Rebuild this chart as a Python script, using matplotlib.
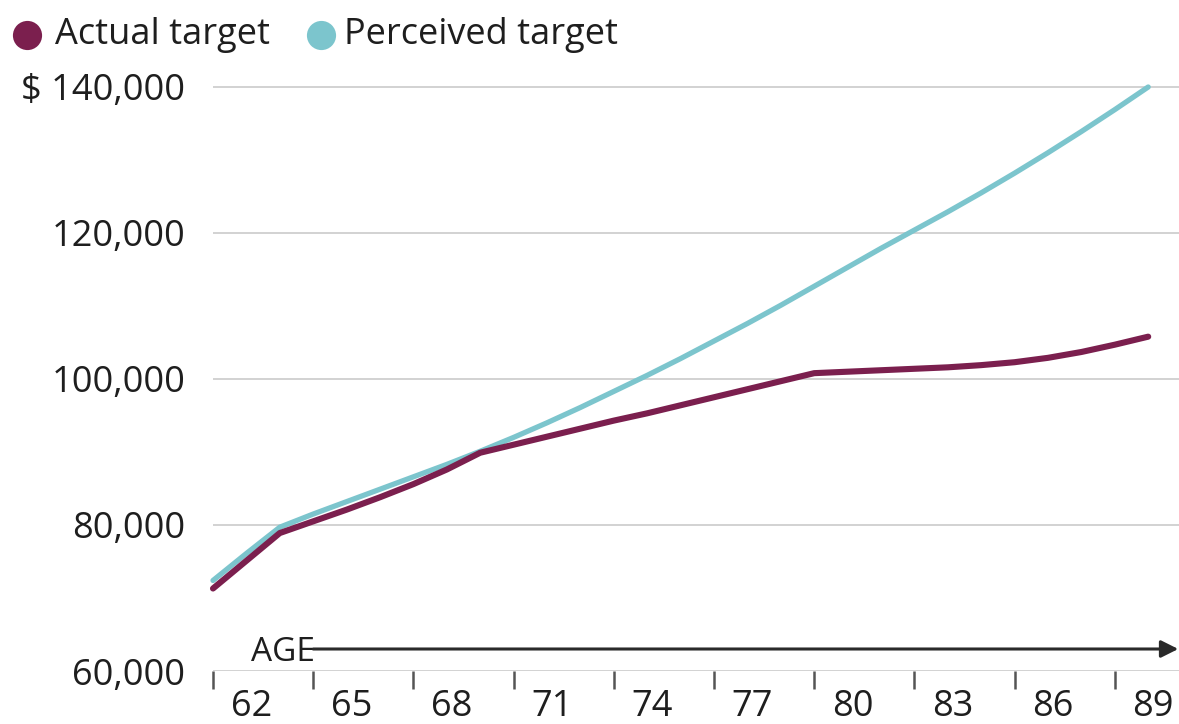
import matplotlib.pyplot as plt
from matplotlib.lines import Line2D

plt.rcParams['font.family'] = ['Open Sans', 'DejaVu Sans']

# Retirement income target by age, in dollars
ages = list(range(62, 91))
actual = [71300, 75100, 78900, 80500, 82100, 83800, 85600, 87600, 89900,
          91000, 92100, 93200, 94300, 95300, 96400, 97500, 98600, 99700,
          100800, 101000, 101200, 101400, 101600, 101900, 102300, 102900,
          103700, 104700, 105800]
perceived = [72400, 76100, 79700, 81500, 83200, 84900, 86600, 88300, 90100,
             92000, 94000, 96100, 98300, 100500, 102800, 105200, 107600,
             110100, 112700, 115300, 117900, 120400, 122900, 125500, 128200,
             131000, 133900, 136900, 140000]

tick_ages = list(range(62, 90, 3))
y_ticks = [60000, 80000, 100000, 120000, 140000]
y_labels = ['60,000', '80,000', '100,000', '120,000', '$ 140,000']

purple = '#7b1f4e'
cyan = '#7cc5cd'
text_col = '#1e1e1e'
fs = 26

W, H = 1179, 724
fig = plt.figure(figsize=(W / 100, H / 100), dpi=100)
ax = fig.add_axes([213 / W, 53 / H, (W - 213) / W, (671 - 70) / H])
ax.set_xlim(62, 62 + (W - 213) / 33.4)
ax.set_ylim(60000, 60000 + (671 - 70) * 20000 / 146)

for v in y_ticks:
    ax.axhline(v, color='#d2d2d2', lw=1.4, zorder=1)

ax.plot(ages, perceived, color=cyan, lw=3.8, solid_capstyle='round',
        solid_joinstyle='round', zorder=3, clip_on=False)
ax.plot(ages, actual, color=purple, lw=4.4, solid_capstyle='round',
        solid_joinstyle='round', zorder=4, clip_on=False)

for s in ax.spines.values():
    s.set_visible(False)

# y labels sit on the gridlines
ax.set_yticks(y_ticks)
ax.set_yticklabels(y_labels, fontsize=fs, color=text_col)
ax.tick_params(axis='y', length=0, pad=20)

# x: short marks at each tick, labels sit just right of them
ax.set_xticks(tick_ages)
ax.set_xticklabels([])
ax.tick_params(axis='x', which='major', direction='out', length=13,
               width=1.8, color='#555555')
ax.set_xticks([a + 1.15 for a in tick_ages], minor=True)
ax.set_xticklabels([str(a) for a in tick_ages], minor=True, fontsize=fs,
                   color=text_col)
ax.tick_params(axis='x', which='minor', length=0, pad=13)

# AGE arrow along the bottom
arrow_y = 60000 + 22 * 20000 / 146
ax.annotate('', xy=(90.9, arrow_y), xytext=(65.0, arrow_y),
            xycoords='data', annotation_clip=False,
            arrowprops=dict(arrowstyle='-|>', color='#2a2a2a', lw=2.2,
                            mutation_scale=26, shrinkA=0, shrinkB=0))
ax.text(65.05, 60000 + 300, 'AGE', fontsize=fs - 2, color=text_col,
        ha='right', va='bottom')

# legend
leg_y = 1 - 35 / H
for cx, tx, col, label in [(27, 55, purple, 'Actual target'),
                           (321, 344, cyan, 'Perceived target')]:
    fig.add_artist(Line2D([cx / W], [leg_y], marker='o', markersize=21,
                          color=col, markeredgewidth=0,
                          transform=fig.transFigure))
    fig.text(tx / W, leg_y, label, fontsize=fs, color=text_col,
             ha='left', va='center')

fig.savefig('out.png', dpi=100, facecolor='white')
